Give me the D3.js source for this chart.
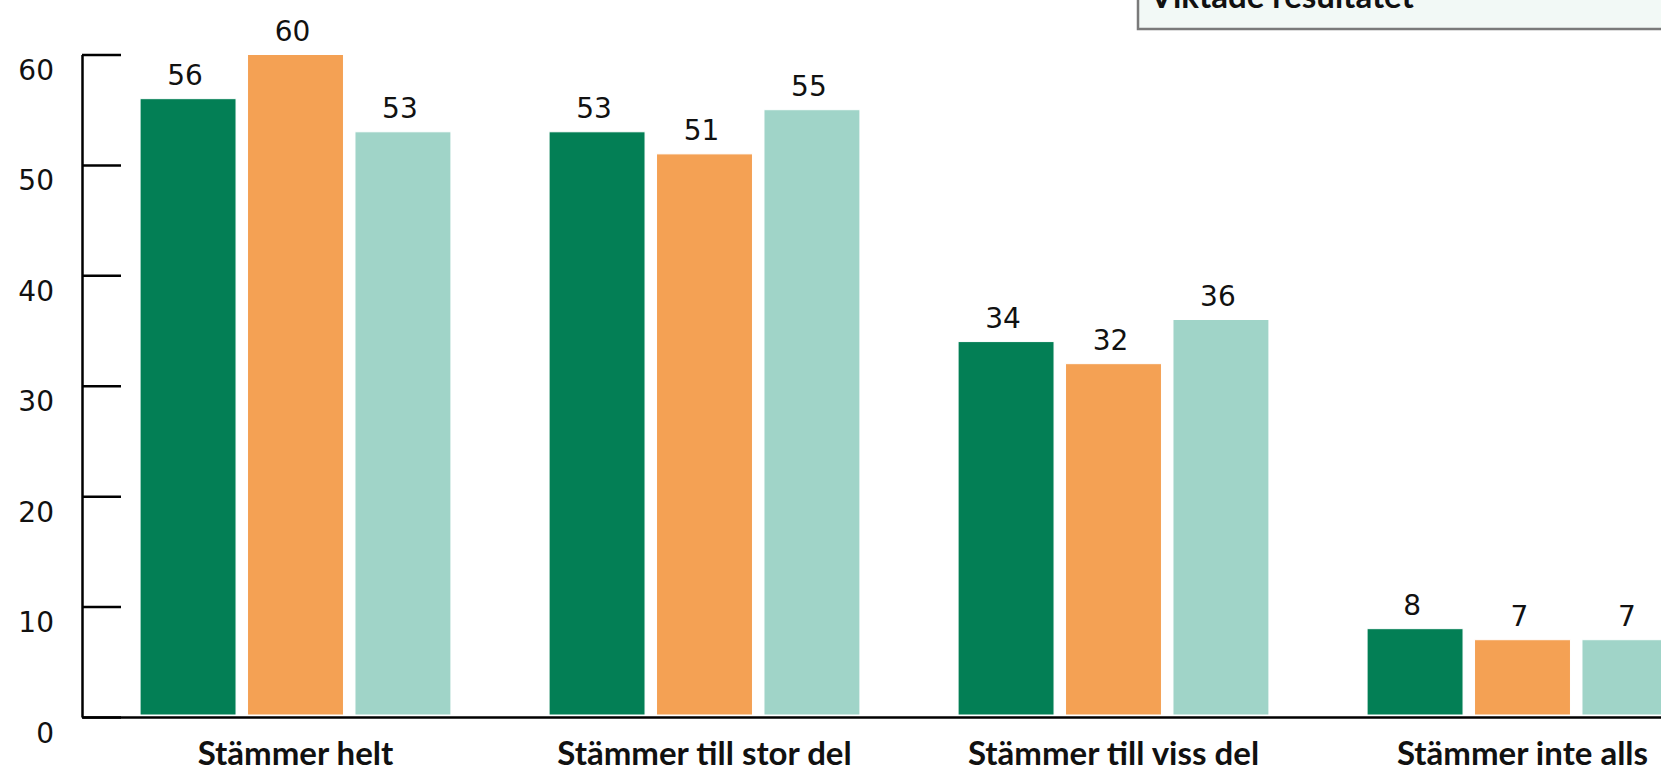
<!DOCTYPE html>
<html>
<head>
<meta charset="utf-8">
<script src="https://cdn.jsdelivr.net/npm/d3@7"></script>
<style>
	body { margin: 0; background: #fff; overflow: hidden; }
	svg { display: block; }
</style>
</head>
<body>
<svg id="chart"></svg>
<script>
const categories = ["Stämmer helt", "Stämmer till stor del", "Stämmer till viss del", "Stämmer inte alls"];
const seriesKeys = ["a", "b", "c"];
const valuesA = [56, 53, 34, 8];
const valuesB = [60, 51, 32, 7];
const valuesC = [53, 55, 36, 7];
const yTicks = [0, 10, 20, 30, 40, 50, 60];
const legendLabel = "Viktade resultatet";

class BarChart
{
	constructor(elem)
	{
		this.container = elem;
	}

	draw()
	{
		let svgWidth = 1661, svgHeight = 770;
		let svg = d3.select(this.container)
			.attr("width", svgWidth)
			.attr("height", svgHeight);

		let data = categories.map((c, i) => ({ cat: c, a: valuesA[i], b: valuesB[i], c: valuesC[i] }));
		let colors = d3.scaleOrdinal().domain(seriesKeys).range(["#037f55", "#f4a154", "#a0d4c8"]);

		//scales
		let x0 = d3.scaleBand()
			.domain(categories)
			.range([82, 1736])
			.paddingInner(0.24)
			.paddingOuter(0.142);
		let x1 = d3.scaleBand()
			.domain(seriesKeys)
			.range([0, x0.bandwidth()])
			.paddingInner(0.107);
		let y = d3.scaleLinear()
			.domain([0, 60])
			.range([717, 54.5]);

		//legend box (mostly above the view)
		let legend = svg.append("g");
		legend.append("rect")
			.attr("x", 1138)
			.attr("y", -120)
			.attr("width", 600)
			.attr("height", 149)
			.attr("fill", "#f2f9f6")
			.attr("stroke", "#7a7a7a")
			.attr("stroke-width", 2.5);
		legend.append("text")
			.attr("x", 1150)
			.attr("y", 8)
			.attr("font-family", "Lato, sans-serif")
			.attr("font-weight", "bold")
			.attr("font-size", 33)
			.attr("fill", "#111")
			.text(legendLabel);

		//bars
		let groups = svg.append("g")
			.selectAll("g")
			.data(data)
			.enter()
			.append("g")
			.attr("transform", d => "translate(" + x0(d.cat) + ",0)");

		groups.selectAll("rect")
			.data(d => seriesKeys.map(k => ({ key: k, value: d[k] })))
			.enter()
			.append("rect")
			.attr("x", d => x1(d.key))
			.attr("y", d => y(d.value))
			.attr("width", x1.bandwidth())
			.attr("height", d => y(0) - y(d.value) - 2)
			.attr("fill", d => colors(d.key))
			.attr("stroke", "#fff")
			.attr("stroke-width", 1);

		groups.selectAll("text")
			.data(d => seriesKeys.map(k => ({ key: k, value: d[k] })))
			.enter()
			.append("text")
			.attr("x", d => x1(d.key) + x1.bandwidth() / 2 - 3)
			.attr("y", d => y(d.value) - 14)
			.attr("text-anchor", "middle")
			.attr("font-family", "'DejaVu Sans', sans-serif")
			.attr("font-size", 28)
			.attr("fill", "#111")
			.text(d => d.value);

		//x-axis
		let xAxis = svg.append("g")
			.attr("transform", "translate(0," + y(0) + ")")
			.call(d3.axisBottom(x0).tickSize(0).tickPadding(48));
		xAxis.select(".domain")
			.attr("stroke", "#000")
			.attr("stroke-width", 2.5);
		xAxis.selectAll("text")
			.attr("font-family", "Lato, sans-serif")
			.attr("font-weight", "bold")
			.attr("font-size", 33)
			.attr("fill", "#111")
			.attr("dy", 0);

		//y-axis
		let yAxis = svg.append("g")
			.attr("transform", "translate(82,0)")
			.call(d3.axisLeft(y).tickValues(yTicks).tickSizeInner(-39).tickSizeOuter(0).tickPadding(28));
		yAxis.select(".domain")
			.attr("stroke", "#000")
			.attr("stroke-width", 2.5);
		yAxis.selectAll(".tick line")
			.attr("stroke", "#000")
			.attr("stroke-width", 2.5);
		yAxis.selectAll("text")
			.attr("font-family", "'DejaVu Sans', sans-serif")
			.attr("font-size", 28)
			.attr("fill", "#111")
			.attr("dy", 25);
	}
}

new BarChart(document.getElementById("chart")).draw();
</script>
</body>
</html>
